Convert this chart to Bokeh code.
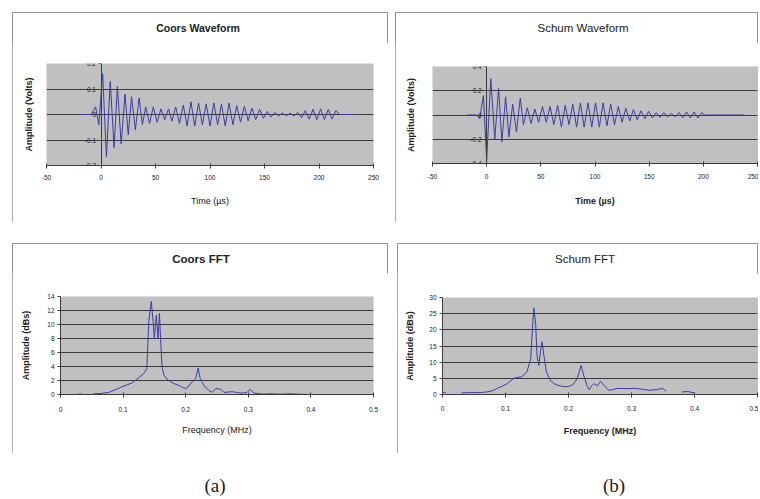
import numpy as np
from bokeh.plotting import figure
from bokeh.models import LinearAxis, FixedTicker, Spacer, Div, Range1d
from bokeh.layouts import column, row
from bokeh.embed import file_html
from bokeh.resources import INLINE

NaN = float("nan")

# ---------------- data ----------------
coors_t = [-18, -9, -5, -2, 1.5, 5, 8.5, 12, 15, 18.5, 22, 25, 28, 31.5, 35, 38,
           41, 44.5, 48, 51.5, 55, 58.5, 62, 65, 68.5, 72, 75.5, 79, 82.5, 86,
           89.5, 93, 96.5, 100, 103.5, 107, 110.5, 114, 117.5, 121, 124.5, 128,
           131.5, 135, 138.5, 142, 145.5, 149, 152.5, 156, 159.5, 163, 166.5,
           170, 173.5, 177, 180.5, 184, 187.5, 191, 194.5, 198, 201.5, 205,
           208.5, 212, 215.5, 219, 234]
coors_v = [0, 0, 0.03, -0.04, 0.16, -0.165, 0.13, -0.13, 0.11, -0.115, 0.08, -0.08,
           0.07, -0.06, 0.065, -0.04, 0.03, -0.035, 0.03, -0.03, 0.022, -0.02,
           0.022, -0.026, 0.03, -0.035, 0.037, -0.045, 0.05, -0.045, 0.045, -0.04,
           0.042, -0.045, 0.045, -0.04, 0.04, -0.045, 0.045, -0.04, 0.035, -0.03,
           0.032, -0.025, 0.025, -0.02, 0.02, -0.015, 0.012, -0.01, 0.008, -0.006,
           0.006, -0.005, 0.005, -0.006, 0.008, -0.012, 0.015, -0.018, 0.02, -0.02,
           0.022, -0.02, 0.02, -0.018, 0.015, 0, 0]

schum_t = [-18, -9, -6.5, -3, 0, 3.8, 7.5, 11, 14, 17.5, 20.5, 24, 27.5, 31, 34,
           37.5, 41, 44.5, 48, 51.5, 55, 58.5, 62, 65.5, 69, 72.5, 76, 79.5, 83,
           86.5, 90, 93.5, 97, 100.5, 104, 107.5, 111, 114.5, 118, 121.5, 125,
           128.5, 132, 135.5, 139, 142.5, 146, 149.5, 153, 156.5, 160, 163.5, 167,
           170.5, 174, 177.5, 181, 184.5, 188, 191.5, 195, 198.5, 201, 238]
schum_v = [0, 0, -0.03, 0.16, -0.37, 0.30, -0.2, 0.22, -0.22, 0.15, -0.18, 0.09,
           -0.14, 0.14, -0.08, 0.06, -0.07, 0.05, -0.06, 0.07, -0.06, 0.07, -0.08,
           0.08, -0.1, 0.08, -0.08, 0.09, -0.1, 0.1, -0.1, 0.1, -0.1, 0.1, -0.1,
           0.1, -0.09, 0.09, -0.08, 0.07, -0.06, 0.055, -0.05, 0.045, -0.04, 0.035,
           -0.03, 0.03, -0.025, 0.02, -0.02, 0.02, -0.015, 0.012, -0.015, 0.02,
           -0.022, 0.025, -0.025, 0.025, -0.025, 0.02, 0, 0]

coors_f = [0.027, 0.035, NaN, 0.053, 0.065, 0.077, 0.088, 0.098, 0.107, 0.115, 0.124,
           0.133, 0.138, 0.141, 0.145, 0.148, 0.150, 0.153, 0.156, 0.158, 0.160,
           0.162, 0.165, 0.170, 0.176, 0.183, 0.189, 0.195, 0.200, 0.204, 0.208,
           0.213, 0.216, 0.220, 0.223, 0.226, 0.229, 0.233, 0.237, 0.242, 0.248,
           0.256, 0.261, 0.268, 0.274, 0.281, 0.288, 0.294, 0.298, 0.303, 0.309,
           0.315, 0.322, 0.335, 0.354, 0.365, 0.380, 0.402]
coors_a = [0.05, 0.05, NaN, 0.1, 0.15, 0.3, 0.7, 1.1, 1.4, 1.7, 2.3, 3.0, 3.7, 10.4,
           13.3, 10.4, 8.0, 11.3, 8.0, 11.6, 7.8, 4.2, 2.8, 2.2, 1.8, 1.5, 1.3, 1.0,
           0.85, 1.1, 1.6, 2.0, 2.3, 3.8, 2.3, 1.8, 1.3, 0.9, 0.6, 0.3, 0.85, 0.75,
           0.3, 0.35, 0.4, 0.3, 0.2, 0.25, 0.3, 0.75, 0.2, 0.15, 0.05, 0.1, 0.05,
           0.1, 0.05, 0.0]

schum_f = [0.0, 0.005, NaN, 0.03, 0.045, 0.06, 0.071, 0.08, 0.087, 0.095, 0.103,
           0.113, 0.12, 0.126, 0.134, 0.14, 0.142, 0.145, 0.148, 0.150, 0.153,
           0.156, 0.158, 0.161, 0.165, 0.171, 0.177, 0.182, 0.19, 0.195, 0.2,
           0.206, 0.21, 0.214, 0.22, 0.224, 0.23, 0.233, 0.237, 0.24, 0.246, 0.251,
           0.256, 0.264, 0.27, 0.277, 0.29, 0.306, 0.318, 0.328, 0.34, 0.349,
           0.355, NaN, 0.38, 0.39, 0.40]
schum_a = [0.5, 0.6, NaN, 0.5, 0.6, 0.6, 0.8, 1.2, 1.9, 2.6, 3.4, 5.0, 5.3, 5.5, 7.0,
           11.0, 18.0, 26.8, 21.4, 12.0, 9.0, 14.0, 16.3, 12.0, 7.0, 4.4, 3.4, 2.9,
           2.5, 2.4, 2.5, 2.9, 3.8, 5.0, 9.0, 6.0, 2.4, 1.5, 2.8, 3.4, 2.7, 4.1,
           2.9, 1.3, 1.5, 1.9, 1.8, 1.9, 1.6, 1.3, 1.5, 1.9, 1.0, NaN, 0.8, 0.9, 0.5]

time_ticks = [-50, 0, 50, 100, 150, 200, 250]
time_labels = ["-50", "0", "50", "100", "150", "200", "250"]
freq_ticks = [0, 0.1, 0.2, 0.3, 0.4, 0.5]
freq_labels = ["0", "0.1", "0.2", "0.3", "0.4", "0.5"]
coors_wave_ticks = [-0.2, -0.1, 0, 0.1, 0.2]
coors_wave_labels = ["-0.2", "-0.1", "0", "0.1", "0.2"]
schum_wave_ticks = [-0.4, -0.2, 0, 0.2, 0.4]
schum_wave_labels = ["-0.4", "-0.2", "0", "0.2", "0.4"]
coors_fft_ticks = [0, 2, 4, 6, 8, 10, 12, 14]
coors_fft_labels = ["0", "2", "4", "6", "8", "10", "12", "14"]
schum_fft_ticks = [0, 5, 10, 15, 20, 25, 30]
schum_fft_labels = ["0", "5", "10", "15", "20", "25", "30"]

# ---------------- style ----------------
FONT = "Liberation Sans"
BG = "#c0c0c0"
GRID = "#3a3a3a"
LINE = "#3c3ca8"
BOX = "#929292"
TXT = "#202020"
TITLE_H = 30


def panel(w, h, borders, xr, yr, xt, xl, yt, yl, x, y, title, t_pos,
          t_bold, t_size, xlabel, xl_bold, xl_stand, x_stand, ylabel, yl_stand,
          fixed_y):
    left, right, top, bottom = borders
    weight = "bold" if t_bold else "normal"
    head = Div(
        text=(f'<div style="position:relative;width:{w}px;height:{TITLE_H}px;">'
              f'<span style="position:absolute;left:{t_pos[0]}px;top:{t_pos[1]}px;'
              f'transform:translate(-50%,-50%);white-space:nowrap;'
              f'font-family:\'{FONT}\';font-size:{t_size};font-weight:{weight};'
              f'color:{TXT};line-height:1;">{title}</span></div>'),
        width=w, height=TITLE_H, margin=0)
    p = figure(width=w, height=h - TITLE_H, output_backend="svg",
               toolbar_location=None,
               x_range=Range1d(*xr), y_range=Range1d(*yr),
               min_border_left=left, min_border_right=right,
               min_border_top=top - TITLE_H, min_border_bottom=bottom,
               background_fill_color=BG, border_fill_color="white",
               outline_line_color=None)

    xa = p.xaxis[0]
    xa.ticker = FixedTicker(ticks=xt)
    xa.major_label_overrides = {t: s for t, s in zip(xt, xl)}
    xa.axis_label = xlabel
    xa.axis_label_text_font = FONT
    xa.axis_label_text_font_size = "9px"
    xa.axis_label_text_font_style = "bold" if xl_bold else "normal"
    xa.axis_label_text_color = TXT
    xa.axis_label_standoff = xl_stand
    xa.major_label_text_font = FONT
    xa.major_label_text_font_size = "6.5px"
    xa.major_label_text_color = TXT
    xa.major_label_standoff = x_stand
    xa.major_tick_in = 2
    xa.major_tick_out = 3
    xa.minor_tick_line_color = None
    xa.axis_line_color = GRID
    xa.major_tick_line_color = GRID

    ya = p.yaxis[0]
    ya.ticker = FixedTicker(ticks=yt)
    ya.major_label_overrides = {t: s for t, s in zip(yt, yl)}
    ya.major_label_text_font = FONT
    ya.major_label_text_font_size = "6.5px"
    ya.major_label_text_color = TXT
    ya.major_tick_in = 0
    ya.major_tick_out = 3
    ya.minor_tick_line_color = None
    ya.axis_line_color = GRID
    ya.major_tick_line_color = GRID

    ylab_kw = dict(axis_label=ylabel, axis_label_text_font=FONT,
                   axis_label_text_font_size="9px",
                   axis_label_text_font_style="bold",
                   axis_label_text_color=TXT,
                   axis_label_standoff=yl_stand)
    if fixed_y:
        ya.fixed_location = 0
        ya.major_label_standoff = 2
        ya.axis_label = None
        extra = LinearAxis(ticker=FixedTicker(ticks=[]), axis_line_color=None,
                           major_tick_line_color=None, minor_tick_line_color=None,
                           major_tick_out=0, major_tick_in=0,
                           major_label_standoff=0, **ylab_kw)
        p.add_layout(extra, "left")
    else:
        ya.major_label_standoff = 3
        for k, v in ylab_kw.items():
            setattr(ya, k, v)

    p.xgrid.grid_line_color = None
    p.ygrid.grid_line_color = GRID
    p.ygrid.ticker = FixedTicker(ticks=yt[:-1])

    p.line(np.array(x, dtype=float), np.array(y, dtype=float),
           line_color=LINE, line_width=1)
    return column(head, p, width=w, height=h,
                  styles={"outline": f"1px solid {BOX}", "outline-offset": "-1px",
                          "background": "white"})


a1 = panel(376, 210, (34, 15, 51, 57), (-50, 250), (-0.2, 0.2),
           time_ticks, time_labels, coors_wave_ticks, coors_wave_labels,
           coors_t, coors_v, "Coors Waveform", (186, 16), True, "10.5px",
           "Time (\u00b5s)", False, 13, 6, "Amplitude (Volts)", 13, True)
b1 = panel(363, 210, (37, 1, 54, 59), (-50, 250), (-0.4, 0.4),
           time_ticks, time_labels, schum_wave_ticks, schum_wave_labels,
           schum_t, schum_v, "Schum Waveform", (188, 17), False, "11.5px",
           "Time (\u00b5s)", True, 14, 7, "Amplitude (Volts)", 17, True)
a2 = panel(376, 210, (48, 15, 53, 59), (0, 0.5), (0, 14),
           freq_ticks, freq_labels, coors_fft_ticks, coors_fft_labels,
           coors_f, coors_a, "Coors FFT", (189, 17), True, "11.5px",
           "Frequency (MHz)", False, 10, 9, "Amplitude (dBs)", 13, False)
b2 = panel(361, 210, (45, 1, 54, 59), (0, 0.5), (0, 30),
           freq_ticks, freq_labels, schum_fft_ticks, schum_fft_labels,
           schum_f, schum_a, "Schum FFT", (188, 17), False, "11.5px",
           "Frequency (MHz)", True, 12, 8, "Amplitude (dBs)", 11, False)

captions = Div(
    text=('<div style="position:relative;width:740px;height:42px;'
          'font-family:\'Liberation Serif\';font-size:19px;line-height:19px;color:#202020;">'
          '<span style="position:absolute;left:215px;top:23px;transform:translateX(-50%);">(a)</span>'
          '<span style="position:absolute;left:614px;top:23px;transform:translateX(-50%);">(b)</span>'
          '</div>'),
    width=740, height=42, margin=0)

layout = column(
    Spacer(width=740, height=12),
    row(Spacer(width=12, height=210), a1, Spacer(width=7, height=210), b1),
    Spacer(width=740, height=21),
    row(Spacer(width=12, height=210), a2, Spacer(width=9, height=210), b2),
    captions,
)

open("out.html", "w").write(file_html(layout, INLINE))
